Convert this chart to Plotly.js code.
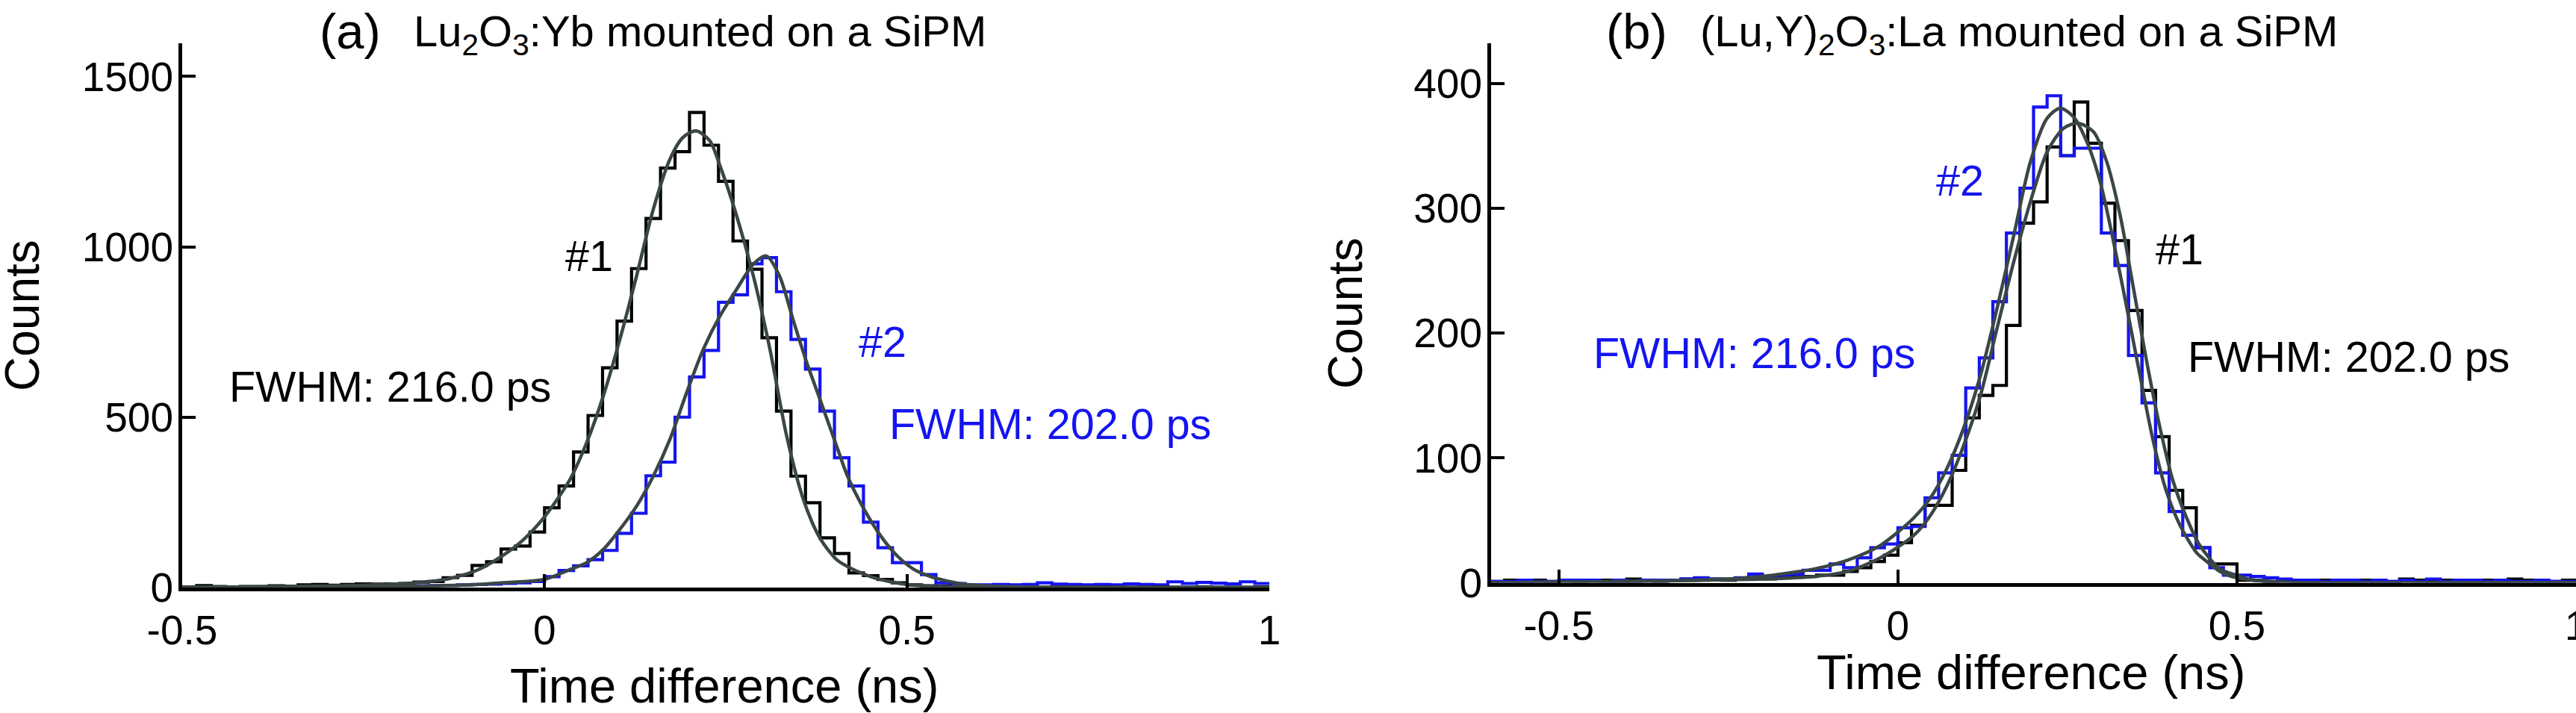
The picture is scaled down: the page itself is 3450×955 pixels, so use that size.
<!DOCTYPE html>
<html>
<head>
<meta charset="utf-8">
<script src="https://cdn.plot.ly/plotly-3.0.1.min.js"></script>
<style>html,body{margin:0;padding:0;background:#fff;}#chart{width:3450px;height:955px;}</style>
</head>
<body>
<div id="chart"></div>
<script>
// ---------- DATA ----------
const binWidth = 0.02;               // ns
const binStartA = -0.5;              // first bin left edge, panel (a)
const binStartB = -0.6;              // first bin left edge, panel (b)

// Panel (a) Lu2O3:Yb — counts per 20 ps bin
const countsA1 = [2,6,3,2,3,3,5,4,8,9,7,9,11,10,11,12,16,18,29,36,65,76,113,122,163,
  234,298,398,505,645,782,936,1083,1231,1279,1394,1298,1192,1017,934,733,518,327,249,146,100,43,35,24,14,8,5,4,3,2,
  2,1,2,1,1,2,1,1,2,1,1,1,2,1,1,2,1,1,1,2];
const countsA2 = [1,2,1,2,1,2,2,2,3,2,3,3,4,3,4,5,5,6,6,8,9,10,12,14,18,
  32,50,64,82,109,159,218,328,368,500,618,696,837,859,950,968,868,728,641,518,381,298,192,117,73,73,38,14,12,8,
  8,9,8,9,14,10,9,8,9,8,11,9,8,17,12,15,13,11,17,12];

// Panel (b) (Lu,Y)2O3:La — counts per 20 ps bin
const countsB1 = [1,2,1,2,1,2,1,2,2,1,3,2,1,2,3,2,3,2,3,4,3,4,5,5,6,6,9,12,17,22,
  32,46,62,62,90,132,150,158,206,288,305,349,342,385,352,304,274,218,154,117,74,60,28,15,15,2,
  2,1,2,1,1,2,1,1,2,1,1,3,2,1,2,1,1,2,1,3,2,1,1,2];
const countsB2 = [1,1,2,1,1,2,2,2,1,2,1,2,2,2,3,4,3,3,4,7,5,6,7,10,10,15,12,20,28,31,
  44,45,68,88,102,156,180,225,280,316,381,390,342,348,348,280,254,182,144,88,57,38,28,12,6,6,5,4,3,2,
  2,1,2,2,1,2,1,2,1,3,1,2,2,1,2,1,1,2,1,1];

// Fitted curves
const fitA1x = [-0.5,-0.4,-0.3,-0.25,-0.2,-0.15,-0.126,-0.092,-0.057,-0.03,0.0,0.035,0.058,0.081,0.104,0.127,0.150,0.173,0.191,0.209,0.228,0.242,0.265,0.288,0.311,0.334,0.357,0.380,0.403,0.426,0.45,0.475,0.5,0.55,0.6,0.8,1.0];
const fitA1y = [1,2,5,7,11,20,29,52,95,139,208,317,425,562,729,915,1110,1257,1321,1340,1311,1238,1091,915,699,445,259,145,82,53,32,18,9,3,1,0,0];
const fitA2x = [-0.5,-0.3,-0.2,-0.1,-0.058,0.0,0.035,0.058,0.081,0.104,0.127,0.150,0.173,0.196,0.219,0.242,0.265,0.288,0.306,0.324,0.343,0.361,0.380,0.403,0.418,0.441,0.464,0.487,0.510,0.533,0.556,0.579,0.625,0.7,1.0];
const fitA2y = [0,1,3,8,14,24,53,73,112,171,239,327,435,572,699,797,875,949,973,915,785,665,552,415,327,229,151,92,53,32,19,10,4,1,0];
const fitB1x = [-0.6,-0.4,-0.3,-0.2,-0.1235,-0.0745,-0.0257,0.0236,0.048,0.0727,0.097,0.1217,0.1463,0.1708,0.1953,0.22,0.2444,0.2655,0.2886,0.308,0.3278,0.3473,0.3669,0.3865,0.406,0.4257,0.445,0.475,0.4995,0.524,0.6,0.8,1.0];
const fitB1y = [0,1,2,3,5,9,20,38,54,78,110,150,204,257,305,345,364,368,361,337,294,236,177,124,81,52,30,11,6,2,0,0,0];
const fitB2x = [-0.6,-0.4,-0.3,-0.22,-0.1235,-0.0745,-0.0257,0.0236,0.048,0.0727,0.097,0.1217,0.1463,0.1708,0.1953,0.22,0.2395,0.2591,0.2787,0.2983,0.318,0.3376,0.357,0.3767,0.396,0.416,0.4405,0.4509,0.475,0.4995,0.549,0.6,0.8,1.0];
const fitB2y = [0,1,2,4,11,18,30,52,68,92,124,166,220,278,337,372,380,373,353,321,273,220,166,113,73,46,24,19,9,4,1,0,0,0];

const xTickVals = [-0.5, 0, 0.5, 1];
const xTickText = ['-0.5', '0', '0.5', '1'];
const yTickValsA = [0, 500, 1000, 1500];
const yTickValsB = [0, 100, 200, 300, 400];

// ---------- STYLE ----------
const W = 3450, H = 955;
const FONT = 'Liberation Sans, Arial, Helvetica, sans-serif';
const BLACK = '#000000', BLUE = '#1414f0', FIT = '#3b4646';
const LABEL = 57.5, TICK = 55, AXT = 65;
const px = x => x / W;
const py = y => 1 - y / H;

function stairs(start, counts) {
  const xs = [], ys = [];
  for (let i = 0; i <= counts.length; i++) {
    xs.push(+(start + i * binWidth).toFixed(4));
    ys.push(counts[Math.min(i, counts.length - 1)]);
  }
  return {x: xs, y: ys};
}

function hist(start, counts, color, xa, ya) {
  const s = stairs(start, counts);
  return {type: 'scatter', mode: 'lines', x: s.x, y: s.y, xaxis: xa, yaxis: ya,
    line: {shape: 'hv', color: color, width: 4.2}, hoverinfo: 'skip'};
}
function fit(xs, ys, xa, ya) {
  return {type: 'scatter', mode: 'lines', x: xs, y: ys, xaxis: xa, yaxis: ya,
    line: {shape: 'spline', smoothing: 0.8, color: FIT, width: 4.5}, hoverinfo: 'skip'};
}

const data = [
  hist(binStartA, countsA2, BLUE, 'x', 'y'),
  hist(binStartA, countsA1, BLACK, 'x', 'y'),
  fit(fitA1x, fitA1y, 'x', 'y'),
  fit(fitA2x, fitA2y, 'x', 'y'),
  hist(binStartB, countsB1, BLACK, 'x2', 'y2'),
  hist(binStartB, countsB2, BLUE, 'x2', 'y2'),
  fit(fitB1x, fitB1y, 'x2', 'y2'),
  fit(fitB2x, fitB2y, 'x2', 'y2')
];

function xAxis(domain, range, anchor) {
  return {domain: domain, range: range, anchor: anchor, tickvals: xTickVals, ticktext: xTickText,
    ticks: 'inside', ticklen: 18, tickwidth: 4, tickcolor: BLACK,
    showline: true, linewidth: 5, linecolor: BLACK, mirror: false,
    showgrid: false, zeroline: false, ticklabelstandoff: 5, ticklabeloverflow: 'allow',
    tickfont: {family: FONT, size: TICK, color: BLACK}, fixedrange: true};
}
function yAxis(domain, range, anchor, vals) {
  return {domain: domain, range: range, anchor: anchor, tickvals: vals,
    ticks: 'inside', ticklen: 18, tickwidth: 4, tickcolor: BLACK,
    showline: true, linewidth: 5, linecolor: BLACK, mirror: false,
    showgrid: false, zeroline: false, ticklabelstandoff: -4,
    tickfont: {family: FONT, size: TICK, color: BLACK}, fixedrange: true};
}

function txt(text, x, y, opts) {
  return Object.assign({text: text, x: x, y: y, showarrow: false, borderpad: 0,
    font: {family: FONT, size: LABEL, color: BLACK}, xanchor: 'center', yanchor: 'middle'}, opts || {});
}
const blueFont = {family: FONT, size: LABEL, color: BLUE};

const annotations = [
  // titles
  txt('(a)', px(427), py(42), {xref: 'paper', yref: 'paper', xanchor: 'left', font: {family: FONT, size: 67, color: BLACK}}),
  txt('Lu<sub>2</sub>O<sub>3</sub>:Yb mounted on a SiPM', px(553), py(46), {xref: 'paper', yref: 'paper', xanchor: 'left', font: {family: FONT, size: 58, color: BLACK}}),
  txt('(b)', px(2150), py(42), {xref: 'paper', yref: 'paper', xanchor: 'left', font: {family: FONT, size: 67, color: BLACK}}),
  txt('(Lu,Y)<sub>2</sub>O<sub>3</sub>:La mounted on a SiPM', px(2276), py(46), {xref: 'paper', yref: 'paper', xanchor: 'left', font: {family: FONT, size: 58, color: BLACK}}),
  // axis titles
  txt('Counts', px(30), py(423), {xref: 'paper', yref: 'paper', textangle: -90, font: {family: FONT, size: 64, color: BLACK}}),
  txt('Counts', px(1802), py(420), {xref: 'paper', yref: 'paper', textangle: -90, font: {family: FONT, size: 64, color: BLACK}}),
  txt('Time difference (ns)', px(970), py(918), {xref: 'paper', yref: 'paper', font: {family: FONT, size: AXT, color: BLACK}}),
  txt('Time difference (ns)', px(2720), py(900), {xref: 'paper', yref: 'paper', font: {family: FONT, size: AXT, color: BLACK}}),
  // panel (a) labels
  txt('#1', 0.061, 973, {xref: 'x', yref: 'y'}),
  txt('FWHM: 216.0 ps', -0.213, 590, {xref: 'x', yref: 'y'}),
  txt('#2', 0.466, 720, {xref: 'x', yref: 'y', font: blueFont}),
  txt('FWHM: 202.0 ps', 0.698, 480, {xref: 'x', yref: 'y', font: blueFont}),
  // panel (b) labels
  txt('#2', 0.091, 322, {xref: 'x2', yref: 'y2', font: blueFont}),
  txt('#1', 0.415, 267, {xref: 'x2', yref: 'y2'}),
  txt('FWHM: 202.0 ps', 0.665, 181, {xref: 'x2', yref: 'y2'}),
  txt('FWHM: 216.0 ps', -0.212, 184, {xref: 'x2', yref: 'y2', font: blueFont})
];

const layout = {
  width: W, height: H,
  margin: {l: 0, r: 0, t: 0, b: 0, pad: 0},
  paper_bgcolor: '#ffffff', plot_bgcolor: '#ffffff',
  showlegend: false,
  xaxis: xAxis([px(244), px(1700)], [-0.5, 1.0], 'y'),
  yaxis: yAxis([py(787), py(58)], [0, 1597], 'x', yTickValsA),
  xaxis2: xAxis([px(1997), 1], [-0.6, 1.0], 'y2'),
  yaxis2: yAxis([py(780.5), py(58)], [0, 432], 'x2', yTickValsB),
  annotations: annotations
};

Plotly.newPlot('chart', data, layout, {staticPlot: true, displayModeBar: false});
</script>
</body>
</html>
